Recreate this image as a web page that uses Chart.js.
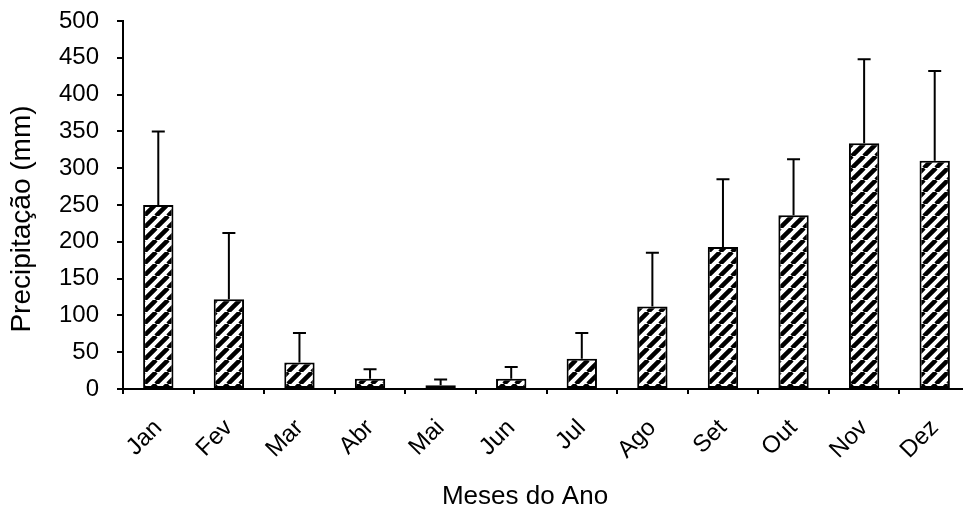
<!DOCTYPE html>
<html>
<head>
<meta charset="utf-8">
<script src="https://cdn.jsdelivr.net/npm/chart.js@4.4.1/dist/chart.umd.min.js"></script>
<style>
    html, body { margin: 0; padding: 0; background: #fff; overflow: hidden; }
    canvas { display: block; }
</style>
</head>
<body>
<canvas id="chuvaChart" width="970" height="515"></canvas>
<script>
const meses = ['Jan', 'Fev', 'Mar', 'Abr', 'Mai', 'Jun', 'Jul', 'Ago', 'Set', 'Out', 'Nov', 'Dez'];
const precipitacao = [250, 122, 36, 14, 5, 14, 41, 112, 193, 236, 334, 310];
const desvio = [100, 90, 40, 13, 8, 16, 35, 73, 92, 76, 114, 122];

const tituloX = 'Meses do Ano';
const tituloY = 'Precipitação (mm)';
const fonte = 'Liberation Sans, Arial, sans-serif';

// diagonal hatch fill like the Excel pattern
function hachura() {
    const size = 12;
    const c = document.createElement('canvas');
    c.width = size;
    c.height = size;
    const g = c.getContext('2d');
    g.fillStyle = '#fff';
    g.fillRect(0, 0, size, size);
    g.strokeStyle = '#000';
    g.lineWidth = 4.5;
    g.beginPath();
    for (let k = -1; k <= 1; k++) {
        g.moveTo(k * size, size);
        g.lineTo(k * size + size, 0);
    }
    g.stroke();
    return g.createPattern(c, 'repeat');
}

const barrasErro = {
    id: 'barrasErro',
    afterDatasetsDraw(chart) {
        const ctx = chart.ctx;
        const y = chart.scales.y;
        const meta = chart.getDatasetMeta(0);
        ctx.save();
        ctx.strokeStyle = '#000';
        ctx.lineWidth = 2;
        meta.data.forEach((bar, i) => {
            const topo = y.getPixelForValue(precipitacao[i] + desvio[i]);
            ctx.beginPath();
            ctx.moveTo(bar.x, bar.y);
            ctx.lineTo(bar.x, topo);
            ctx.moveTo(bar.x - 6.5, topo);
            ctx.lineTo(bar.x + 6.5, topo);
            ctx.stroke();
        });
        ctx.restore();
    }
};

const titulos = {
    id: 'titulos',
    afterDraw(chart) {
        const ctx = chart.ctx;
        ctx.save();
        ctx.fillStyle = '#000';
        ctx.textAlign = 'center';
        ctx.textBaseline = 'middle';
        ctx.font = '26px ' + fonte;
        ctx.fillText(tituloX, 525, 497);
        ctx.font = '28px ' + fonte;
        ctx.translate(22, 219);
        ctx.rotate(-Math.PI / 2);
        ctx.fillText(tituloY, 0, 0);
        ctx.restore();
    }
};

const ctx = document.getElementById('chuvaChart').getContext('2d');

new Chart(ctx, {
    type: 'bar',
    data: {
        labels: meses,
        datasets: [{
            data: precipitacao,
            backgroundColor: hachura(),
            borderColor: '#000',
            borderWidth: 2,
            borderSkipped: false,
            barPercentage: 0.43,
            categoryPercentage: 1
        }]
    },
    options: {
        responsive: false,
        animation: false,
        layout: { padding: { top: 21, left: 0, right: 0, bottom: 0 } },
        plugins: { legend: { display: false }, tooltip: { enabled: false } },
        scales: {
            x: {
                grid: { drawOnChartArea: false, offset: true, tickLength: 5, color: '#000', lineWidth: 2 },
                border: { color: '#000', width: 2 },
                ticks: {
                    color: '#000',
                    font: { family: fonte, size: 24 },
                    minRotation: 45,
                    maxRotation: 45,
                    padding: 20
                },
                afterFit(axis) {
                    axis.height = 126;
                    axis.paddingLeft = 0;
                    axis.paddingRight = 0;
                }
            },
            y: {
                min: 0,
                max: 500,
                grid: { drawOnChartArea: false, tickLength: 6, color: '#000', lineWidth: 2 },
                border: { color: '#000', width: 2 },
                ticks: {
                    stepSize: 50,
                    color: '#000',
                    font: { family: fonte, size: 24 },
                    padding: 18
                },
                afterFit(axis) {
                    axis.width = 123;
                    axis.paddingTop = 0;
                    axis.paddingBottom = 0;
                }
            }
        }
    },
    plugins: [barrasErro, titulos]
});
</script>
</body>
</html>
